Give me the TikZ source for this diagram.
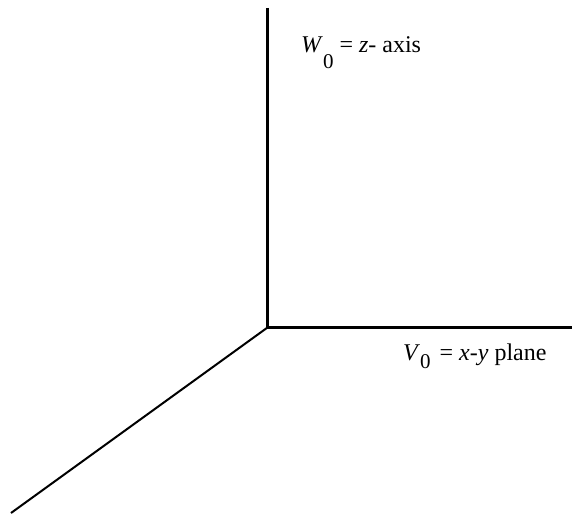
\documentclass[tikz,border=0pt]{standalone}
\usepackage{fontspec}
\setmainfont{Liberation Serif}
\newcommand{\subz}[1]{\raisebox{#1}{\fontsize{21}{22}\selectfont 0}}
\begin{document}
\begin{tikzpicture}[x=1pt,y=-1pt,
  axisline/.style={line width=3pt},
  diagline/.style={line width=2pt},
  lbl/.style={anchor=base west,inner sep=0pt,font=\fontsize{24}{26}\selectfont}]
\useasboundingbox (0,0) rectangle (572,516);
\coordinate (O) at (267.5,327.5);
\coordinate (T) at (267.5,8);
\coordinate (R) at (572,327.5);
\coordinate (L) at (11,513);
\draw[axisline] (T) -- (O) -- (R);
\draw[diagline] (O) -- (L);
\node[lbl] (wlab) at (301,53) {\textit{W}\subz{-16pt} = \textit{z}- axis};
\node[lbl] (vlab) at (403,360) {\textit{V}\subz{-8pt}\hspace{3pt} = \textit{x}-\textit{y} plane};
\end{tikzpicture}
\end{document}
